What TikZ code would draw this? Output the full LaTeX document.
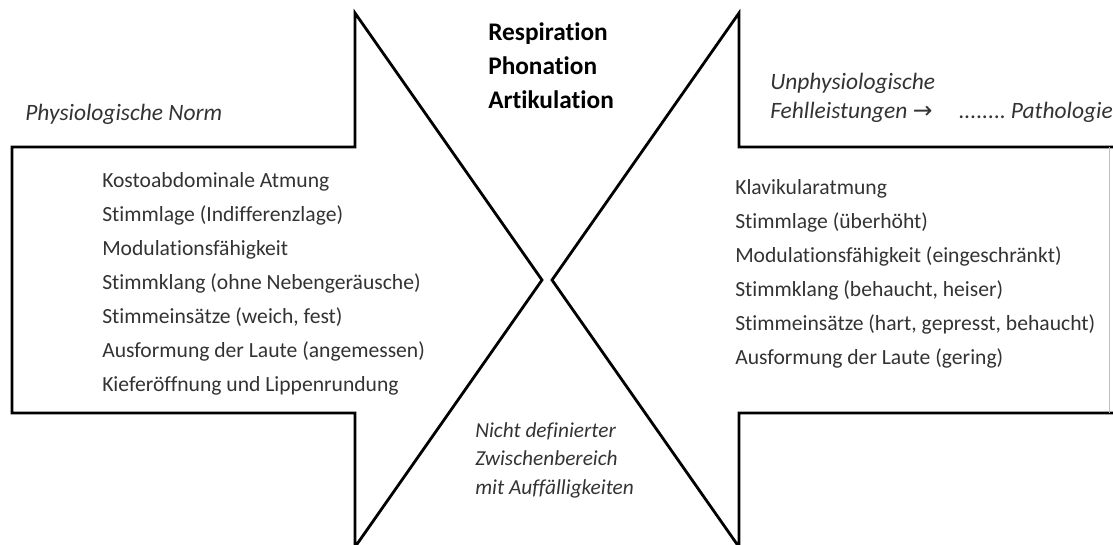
\documentclass[tikz,border=0pt]{standalone}
\usepackage{fontspec}
\setmainfont[Ligatures=CommonOff]{Carlito}
\newfontfamily\arrowfont{DejaVu Sans}
\usepackage{tikz}
\tikzset{
	arrowstyle/.style={draw=black,line width=2.1pt,line join=miter,fill=white},
	titlestyle/.style={anchor=base west,inner sep=0pt,font=\fontsize{19}{23}\selectfont\bfseries},
	itemstyle/.style={anchor=base west,inner sep=0pt,text=black!80,font=\fontsize{16.2}{19}\selectfont},
	notestyle/.style={anchor=base west,inner sep=0pt,text=black!80,font=\fontsize{17.6}{21}\selectfont\itshape},
	midstyle/.style={anchor=north west,align=left,inner sep=0pt,text=black!80,font=\fontsize{16}{21.5}\selectfont\itshape}
}

\begin{document}
\begin{tikzpicture}[x=0.75pt,y=-0.75pt]
		\useasboundingbox (0,0) rectangle (1113,544);
		% the two arrows
		\draw[arrowstyle] (12,147) -- (355,147) -- (355,13) -- (542,280) -- (355,547) -- (355,413) -- (12,413) -- cycle;
		\draw[arrowstyle] (1125,147) -- (739,147) -- (739,13) -- (552,280) -- (739,547) -- (739,413) -- (1125,413);
		\draw[black!25,line width=0.6pt] (1109,147) -- (1109,413);
		% headings
		\node[titlestyle] (resp) at (488,40) {Respiration};
		\node[titlestyle] (phon) at (488,74) {Phonation};
		\node[titlestyle] (artik) at (488,108) {Artikulation};
		\node[notestyle] (norm) at (25,120) {Physiologische Norm};
		\node[notestyle] (unphys) at (770,89) {Unphysiologische};
		\node[notestyle] (fehl) at (770,118) {Fehlleistungen {\upshape\arrowfont →}};
		\node[notestyle] (patho) at (958,118) {\upshape ........\ \itshape Pathologie};
		\node[midstyle] (zwischen) at (475,422) {Nicht definierter\\Zwischenbereich\\mit Auffälligkeiten};
		% left list
		\node[itemstyle] (l1) at (102,187) {Kostoabdominale Atmung};
		\node[itemstyle] (l2) at (102,221) {Stimmlage (Indifferenzlage)};
		\node[itemstyle] (l3) at (102,255) {Modulationsfähigkeit};
		\node[itemstyle] (l4) at (102,289) {Stimmklang (ohne Nebengeräusche)};
		\node[itemstyle] (l5) at (102,323) {Stimmeinsätze (weich, fest)};
		\node[itemstyle] (l6) at (102,357) {Ausformung der Laute (angemessen)};
		\node[itemstyle] (l7) at (102,391) {Kieferöffnung und Lippenrundung};
		% right list
		\node[itemstyle] (r1) at (735,194) {Klavikularatmung};
		\node[itemstyle] (r2) at (735,228) {Stimmlage (überhöht)};
		\node[itemstyle] (r3) at (735,262) {Modulationsfähigkeit (eingeschränkt)};
		\node[itemstyle] (r4) at (735,296) {Stimmklang (behaucht, heiser)};
		\node[itemstyle] (r5) at (735,330) {Stimmeinsätze (hart, gepresst, behaucht)};
		\node[itemstyle] (r6) at (735,364) {Ausformung der Laute (gering)};
\end{tikzpicture}
\end{document}
